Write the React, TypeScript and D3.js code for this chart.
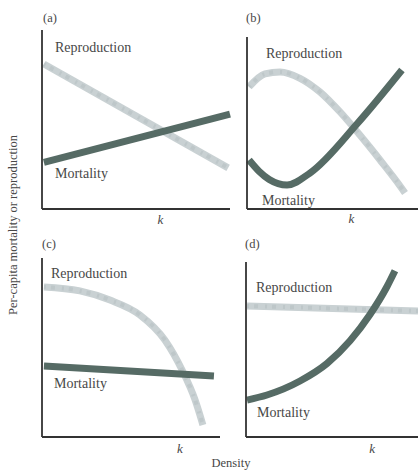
import React from "react";
import * as d3 from "d3";

// density (0..10 across each panel) and per-capita rate (0..10 up each panel)
const panelNames = ["(a)", "(b)", "(c)", "(d)"];

const reproA: [number, number][] = [[0.1, 8.1], [9.9, 2.3]];
const mortA: [number, number][] = [[0.1, 2.6], [10, 5.3]];

const reproB: [number, number][] = [
  [0.12, 7.1], [1.05, 7.85], [1.93, 7.97], [3.1, 7.6], [4.27, 6.8],
  [5.44, 5.64], [6.6, 4.3], [7.78, 2.85], [8.95, 1.34], [9.24, 0.93],
];
const mortB: [number, number][] = [
  [0.12, 2.85], [0.7, 2.2], [1.3, 1.72], [2.34, 1.4], [3.68, 2.09], [6.43, 4.94], [9.06, 8.08],
];

const reproC: [number, number][] = [
  [0.11, 8.38], [2.13, 8.16], [3.82, 7.65], [5.5, 6.82], [6.9, 5.42],
  [7.87, 3.74], [8.6, 2.07], [9.04, 0.67],
];
const mortC: [number, number][] = [[0.11, 3.97], [9.66, 3.41]];

const reproD: [number, number][] = [[0.06, 7.49], [10, 7.2]];
const mortD: [number, number][] = [
  [0.06, 2.11], [1.22, 2.4], [3.14, 3.2], [4.71, 4.2], [6.05, 5.5],
  [7.21, 7.0], [8.2, 8.6], [8.66, 9.5],
];

const kPositions = [6.3, 6.1, 7.75, 7.33];

const PANELS = [
  { left: 42, right: 230, top: 30, bottom: 209, repro: reproA, mort: mortA,
    tag: [43, 22], rep: [55, 52], mor: [55, 178], kY: 224 },
  { left: 247, right: 418, top: 37, bottom: 209, repro: reproB, mort: mortB,
    tag: [246, 22], rep: [266, 58], mor: [262, 205], kY: 223 },
  { left: 42, right: 220, top: 258, bottom: 437, repro: reproC, mort: mortC,
    tag: [42, 248], rep: [51, 278], mor: [54, 388], kY: 453 },
  { left: 246, right: 418, top: 262, bottom: 437, repro: reproD, mort: mortD,
    tag: [245, 248], rep: [256, 292], mor: [257, 417], kY: 453 },
];

const MORT_COLOR = "#566b65";
const REPRO_COLOR = "#c9d1d3";
const TEXT_COLOR = "#474747";
const FONT = "'Liberation Serif', 'DejaVu Serif', serif";

const Panel = ({ p, i }: { p: (typeof PANELS)[number]; i: number }) => {
  const x = d3.scaleLinear().domain([0, 10]).range([p.left, p.right]);
  const y = d3.scaleLinear().domain([0, 10]).range([p.bottom, p.top]);
  const line = d3
    .line<[number, number]>()
    .x((d) => x(d[0]))
    .y((d) => y(d[1]))
    .curve(d3.curveMonotoneX);
  const reproPath = line(p.repro) || "";
  const mortPath = line(p.mort) || "";
  return (
    <g>
      <text x={p.tag[0]} y={p.tag[1]} fontSize={12.5} fill={TEXT_COLOR}>{panelNames[i]}</text>
      <path d={reproPath} fill="none" stroke={REPRO_COLOR} strokeWidth={7} />
      <path d={reproPath} fill="none" stroke="#a9b4b7" strokeWidth={4} strokeDasharray="2 5 4 7" opacity={0.35} />
      <path d={mortPath} fill="none" stroke={MORT_COLOR} strokeWidth={7} />
      <line x1={x(0)} x2={x(0)} y1={y(10)} y2={y(0)} stroke="#333" strokeWidth={1.8} />
      <line x1={x(0)} x2={x(10)} y1={y(0)} y2={y(0)} stroke="#333" strokeWidth={1.8} />
      <text x={p.rep[0]} y={p.rep[1]} fontSize={14} fill={TEXT_COLOR}>Reproduction</text>
      <text x={p.mor[0]} y={p.mor[1]} fontSize={14} fill={TEXT_COLOR}>Mortality</text>
      <text x={x(kPositions[i])} y={p.kY} fontSize={13} fontStyle="italic" textAnchor="middle" fill={TEXT_COLOR}>k</text>
    </g>
  );
};

export default function App() {
  return (
    <svg width={418} height={476} style={{ position: "absolute", left: 0, top: 0, background: "#fff" }} fontFamily={FONT}>
      <rect width={418} height={476} fill="#fff" />
      {PANELS.map((p, i) => (
        <Panel key={i} p={p} i={i} />
      ))}
      <text transform="translate(17,225) rotate(-90)" textAnchor="middle" fontSize={12.5} fill={TEXT_COLOR}>
        Per-capita mortality or reproduction
      </text>
      <text x={231} y={467} textAnchor="middle" fontSize={12.5} fill={TEXT_COLOR}>Density</text>
    </svg>
  );
}
